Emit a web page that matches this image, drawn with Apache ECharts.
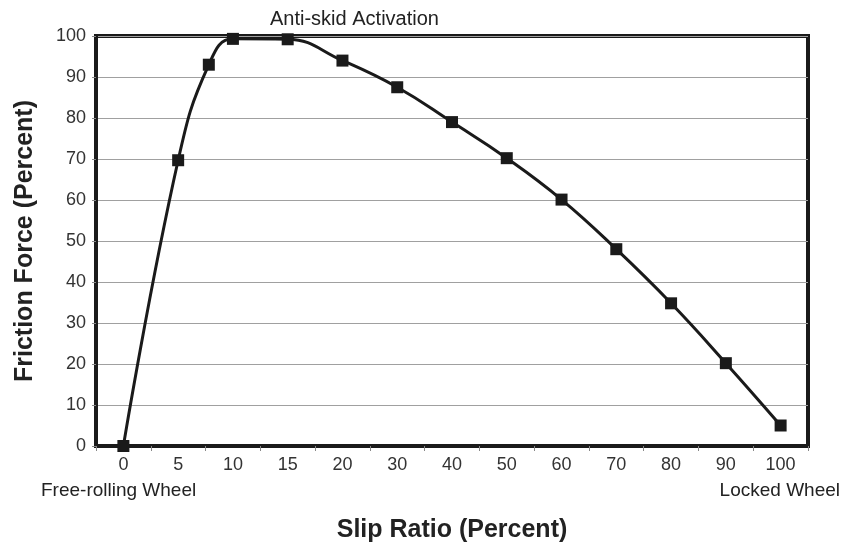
<!DOCTYPE html>
<html>
<head>
<meta charset="utf-8">
<script src="https://cdn.jsdelivr.net/npm/echarts@6/dist/echarts.min.js"></script>
<style>
html,body{margin:0;padding:0;background:#fff;}
#chart{width:847px;height:546px;}
</style>
</head>
<body>
<div id="chart"></div>
<script>
// Tick labels of the (evenly spaced) slip-ratio axis
var tickLabels = ['0', '5', '10', '15', '20', '30', '40', '50', '60', '70', '80', '90', '100'];
// Measured points: slip ratio (percent) and friction force (percent)
var slipRatio = [0, 5, 7.8, 10, 15, 20, 30, 40, 50, 60, 70, 80, 90, 100];
var frictionForce = [0, 69.7, 93, 99.3, 99.2, 94, 87.5, 79, 70.2, 60.1, 48, 34.8, 20.2, 5];

var yTicks = [0, 100, 10];
var titleText = 'Anti-skid Activation';
var leftNote = 'Free-rolling Wheel';
var rightNote = 'Locked Wheel';
var xName = 'Slip Ratio (Percent)';
var yName = 'Friction Force (Percent)';

// map a slip value to its position on the evenly spaced tick axis
function slipToPos(s) {
  var t = tickLabels.map(Number);
  for (var i = 0; i < t.length - 1; i++) {
    if (s >= t[i] && s <= t[i + 1]) return i + (s - t[i]) / (t[i + 1] - t[i]);
  }
  return t.length - 1;
}
var seriesData = slipRatio.map(function (s, i) { return [slipToPos(s), frictionForce[i]]; });

var font = 'Liberation Sans, Arial, Helvetica, sans-serif';
var chart = echarts.init(document.getElementById('chart'), null, {renderer: 'canvas'});
chart.setOption({
  animation: false,
  backgroundColor: '#fff',
  grid: {left: 96, right: 39, top: 36, bottom: 100, containLabel: false, outerBoundsMode: 'none',
         show: true, borderColor: '#1a1a1a', borderWidth: 4, backgroundColor: 'transparent'},
  xAxis: [{
    type: 'category',
    data: tickLabels,
    boundaryGap: true,
    position: 'bottom',
    axisLine: {show: true, onZero: false, lineStyle: {color: '#1a1a1a', width: 4}},
    axisTick: {show: true, interval: 0, length: 5, lineStyle: {color: '#888', width: 1}},
    axisLabel: {interval: 0, margin: 10, fontSize: 18, color: '#333', fontFamily: font},
    splitLine: {show: false},
    name: xName,
    nameLocation: 'middle',
    nameGap: 72,
    nameTextStyle: {fontSize: 25, fontWeight: 'bold', color: '#222', fontFamily: font}
  }, {
    type: 'value',
    min: -0.5,
    max: tickLabels.length - 0.5,
    show: false
  }],
  yAxis: {
    type: 'value',
    min: yTicks[0],
    max: yTicks[1],
    interval: yTicks[2],
    axisLine: {show: true, onZero: false, lineStyle: {color: '#1a1a1a', width: 4}},
    axisTick: {show: true, length: 4, lineStyle: {color: '#888'}},
    axisLabel: {margin: 10, fontSize: 18, color: '#333', fontFamily: font},
    splitLine: {show: true, lineStyle: {color: '#a0a0a0', width: 1}},
    name: yName,
    nameLocation: 'middle',
    nameGap: 58,
    nameTextStyle: {fontSize: 25, fontWeight: 'bold', color: '#222', fontFamily: font}
  },
  series: [{
    type: 'line',
    xAxisIndex: 1,
    data: seriesData,
    smooth: 0.45,
    clip: false,
    symbol: 'rect',
    symbolSize: 12,
    lineStyle: {color: '#1a1a1a', width: 3},
    itemStyle: {color: '#1a1a1a'},
    z: 5
  }],
  graphic: [
    {type: 'text', left: 270, top: 9, style: {text: titleText, fontSize: 20, fill: '#222', fontFamily: font}},
    {type: 'text', left: 41, top: 481, style: {text: leftNote, fontSize: 19, fill: '#222', fontFamily: font}},
    {type: 'text', right: 7, top: 481, style: {text: rightNote, fontSize: 19, fill: '#222', fontFamily: font}}
  ]
});
</script>
</body>
</html>
